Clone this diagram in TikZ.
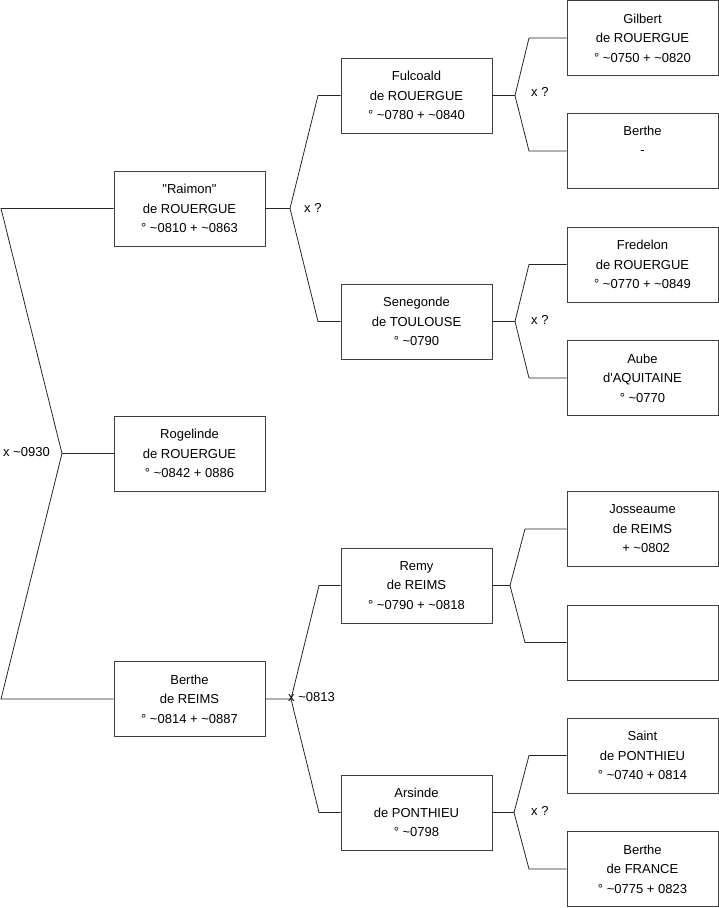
\documentclass[tikz,border=0pt]{standalone}
\usepackage{fontspec}
\setmainfont{Liberation Sans}
\begin{document}
\begin{tikzpicture}[x=1pt,y=-1pt,
  person/.style={draw=black!75, line width=0.9pt, fill=white, minimum width=151pt, minimum height=75pt,
    inner sep=0pt, align=center, font=\fontsize{13}{19.5}\selectfont},
  conn/.style={draw=black!85, line width=0.8pt},
  lab/.style={anchor=west, inner sep=0pt, font=\fontsize{13}{15}\selectfont}]
\useasboundingbox (0,0) rectangle (719,908);
% column 1
\node[person] (raimon) at (189.5,208.5) {\textquotedbl Raimon\textquotedbl\\de ROUERGUE\\° \textasciitilde0810 + \textasciitilde0863};
\node[person] (rogelinde) at (189.5,453.5) {Rogelinde\\de ROUERGUE\\° \textasciitilde0842 + 0886};
\node[person] (bertheR) at (189.5,699) {Berthe\\de REIMS\\° \textasciitilde0814 + \textasciitilde0887};
% column 2
\node[person] (fulcoald) at (416.5,95.5) {Fulcoald\\de ROUERGUE\\° \textasciitilde0780 + \textasciitilde0840};
\node[person] (senegonde) at (416.5,321.5) {Senegonde\\de TOULOUSE\\° \textasciitilde0790};
\node[person] (remy) at (416.5,585.5) {Remy\\de REIMS\\° \textasciitilde0790 + \textasciitilde0818};
\node[person] (arsinde) at (416.5,812.5) {Arsinde\\de PONTHIEU\\° \textasciitilde0798};
% column 3
\node[person] (gilbert) at (642.5,38) {Gilbert\\de ROUERGUE\\° \textasciitilde0750 + \textasciitilde0820};
\node[person] (bertheA) at (642.5,151) {Berthe\strut\\-\strut\\\strut};
\node[person] (fredelon) at (642.5,264.5) {Fredelon\\de ROUERGUE\\° \textasciitilde0770 + \textasciitilde0849};
\node[person] (aube) at (642.5,378) {Aube\\d\textquotesingle AQUITAINE\\° \textasciitilde0770};
\node[person] (josseaume) at (642.5,529) {Josseaume\\de REIMS\\\ \ + \textasciitilde0802};
\node[person] (empty) at (642.5,642.5) {};
\node[person] (saint) at (642.5,755.5) {Saint\\de PONTHIEU\\° \textasciitilde0740 + 0814};
\node[person] (bertheF) at (642.5,869) {Berthe\\de FRANCE\\° \textasciitilde0775 + 0823};
% junctions
\coordinate (l0a) at (1,208.5);
\coordinate (l0b) at (1,699);
\coordinate (j0) at (62,453.5);
\coordinate (j1) at (290,208.5);
\coordinate (b1a) at (318,95.5);
\coordinate (b1b) at (318,321.5);
\coordinate (j2) at (291,699);
\coordinate (b2a) at (319,585.5);
\coordinate (b2b) at (319,812.5);
\coordinate (j3) at (515,95.5);
\coordinate (b3a) at (529,38);
\coordinate (b3b) at (529,151);
\coordinate (j4) at (515,321.5);
\coordinate (b4a) at (529,264.5);
\coordinate (b4b) at (529,378);
\coordinate (j5) at (510,585.5);
\coordinate (b5a) at (525,529);
\coordinate (b5b) at (525,642.5);
\coordinate (j6) at (514,812.5);
\coordinate (b6a) at (529,755.5);
\coordinate (b6b) at (529,869);
% connectors
\draw[conn] (raimon.west) -- (l0a) -- (j0) -- (l0b) -- (bertheR.west);
\draw[conn] (j0) -- (rogelinde.west);
\draw[conn] (raimon.east) -- (j1) -- (b1a) -- (fulcoald.west);
\draw[conn] (j1) -- (b1b) -- (senegonde.west);
\draw[conn] (bertheR.east) -- (j2) -- (b2a) -- (remy.west);
\draw[conn] (j2) -- (b2b) -- (arsinde.west);
\draw[conn] (fulcoald.east) -- (j3) -- (b3a) -- (gilbert.west);
\draw[conn] (j3) -- (b3b) -- (bertheA.west);
\draw[conn] (senegonde.east) -- (j4) -- (b4a) -- (fredelon.west);
\draw[conn] (j4) -- (b4b) -- (aube.west);
\draw[conn] (remy.east) -- (j5) -- (b5a) -- (josseaume.west);
\draw[conn] (j5) -- (b5b) -- (empty.west);
\draw[conn] (arsinde.east) -- (j6) -- (b6a) -- (saint.west);
\draw[conn] (j6) -- (b6b) -- (bertheF.west);
% labels
\node[lab] (t0) at (3,452) {x \textasciitilde0930};
\node[lab] (t1) at (304,207.5) {x ?};
\node[lab] (t2) at (288,697.5) {x \textasciitilde0813};
\node[lab] (t3) at (531,92) {x ?};
\node[lab] (t4) at (531,320) {x ?};
\node[lab] (t6) at (531,811) {x ?};
\end{tikzpicture}
\end{document}
